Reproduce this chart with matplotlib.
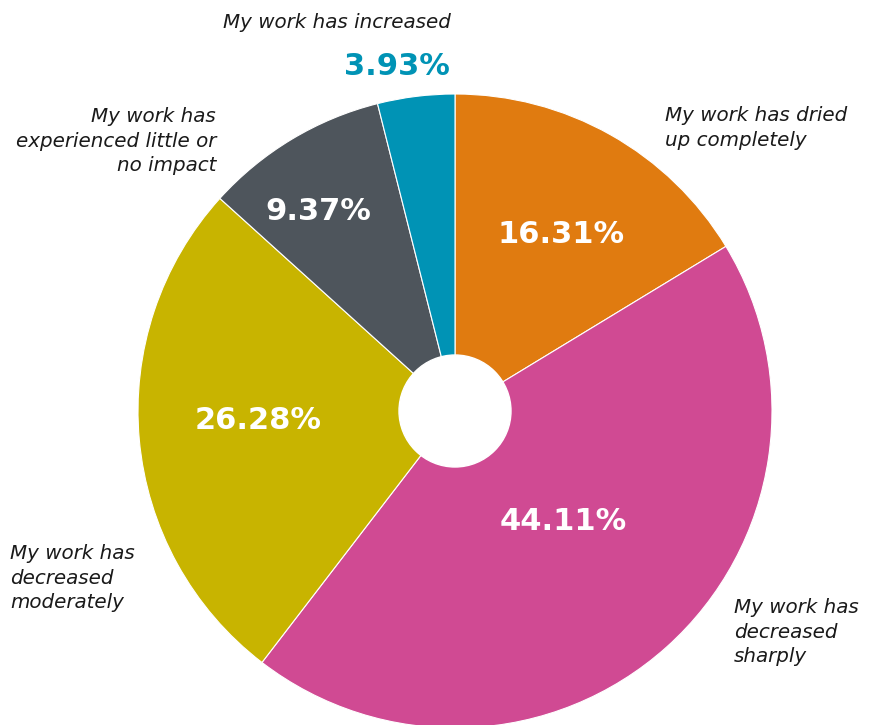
import matplotlib
matplotlib.use("Agg")
import matplotlib.pyplot as plt

# slice values, clockwise from 12 o'clock
labels = ["My work has dried\nup completely",
          "My work has\ndecreased\nsharply",
          "My work has\ndecreased\nmoderately",
          "My work has\nexperienced little or\nno impact",
          "My work has increased"]
values = [16.31, 44.11, 26.28, 9.37, 3.93]
colors = ["#E07B10", "#D04A93", "#C8B400", "#4E555C", "#0093B5"]

W, H = 874, 725
fig = plt.figure(figsize=(W / 100, H / 100), dpi=100)
ax = fig.add_axes([0, 0, 1, 1])

cx, cy, r = 455, H - 411, 317
ax.pie(values, colors=colors, startangle=90, counterclock=False,
       center=(cx, cy), radius=r, frame=True,
       wedgeprops=dict(linewidth=0.8, edgecolor="white"))
ax.add_patch(plt.Circle((cx, cy), 56, color="white", zorder=5))
ax.set_xlim(0, W)
ax.set_ylim(0, H)
ax.set_aspect("equal")
ax.axis("off")

# percentage labels (pixel positions from the top)
pct_pos = [(561, 234), (563, 522), (258, 420), (318, 211), (397, 66)]
pct_col = ["white", "white", "white", "white", "#0093B5"]
for v, (x, y), c in zip(values, pct_pos, pct_col):
    ax.text(x, H - y, f"{v:.2f}%", color=c, fontsize=22, fontweight="bold",
            ha="center", va="center", zorder=6)

# category labels
cat_pos = [(665, 128, "left"), (734, 632, "left"), (10, 578, "left"),
           (216, 141, "right"), (337, 22, "center")]
for lab, (x, y, ha) in zip(labels, cat_pos):
    ax.text(x, H - y, lab, fontsize=14.3, style="italic", color="#1a1a1a",
            ha=ha, va="center", multialignment=ha, linespacing=1.37, zorder=6)

fig.savefig("out.png", dpi=100)
